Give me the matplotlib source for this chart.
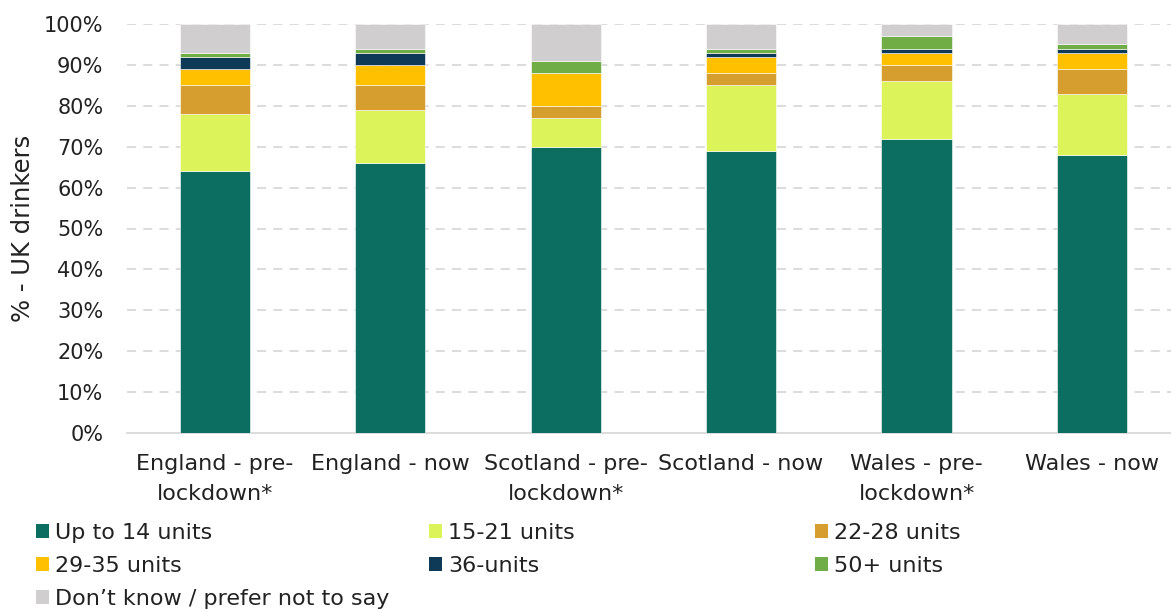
import matplotlib
matplotlib.use("Agg")
import matplotlib.pyplot as plt
from matplotlib.patches import Patch
import numpy as np

plt.rcParams['font.family'] = ['DejaVu Sans']

categories = ["England - pre-\nlockdown*", "England - now", "Scotland - pre-\nlockdown*",
              "Scotland - now", "Wales - pre-\nlockdown*", "Wales - now"]
series_names = ["Up to 14 units", "15-21 units", "22-28 units", "29-35 units",
                "36-units", "50+ units", "Don\u2019t know / prefer not to say"]
up_to_14 = [64, 66, 70, 69, 72, 68]
u15_21 = [14, 13, 7, 16, 14, 15]
u22_28 = [7, 6, 3, 3, 4, 6]
u29_35 = [4, 5, 8, 4, 3, 4]
u36 = [3, 3, 0, 1, 1, 1]
u50 = [1, 1, 3, 1, 3, 1]
dont_know = [7, 6, 9, 6, 3, 5]
yticks = [0, 10, 20, 30, 40, 50, 60, 70, 80, 90, 100]

colors = ["#0B6E61", "#DCF35A", "#D69E2E", "#FFC000", "#0F3A57", "#70AD47", "#D0CECE"]
series = [up_to_14, u15_21, u22_28, u29_35, u36, u50, dont_know]

fig = plt.figure(figsize=(11.71, 6.10), dpi=100)
ax = fig.add_axes([127/1171, 1-433/610, 1-127/1171, (433-24)/610])

x = np.arange(len(categories))
bottom = np.zeros(len(categories))
for vals, col, name in zip(series, colors, series_names):
    vals = np.array(vals, dtype=float)
    ax.bar(x, vals, 0.4, bottom=bottom, color=col, edgecolor='white', linewidth=0.4,
           label=name, zorder=3)
    bottom += vals

ax.set_xlim(-0.5, 5.45)
ax.set_ylim(0, 100)
ax.set_yticks(yticks)
ax.set_yticklabels([f"{v}%" for v in yticks], fontsize=15, color='#222222')
ax.set_xticks(x)
ax.set_xticklabels(categories, fontsize=16, color='#222222', linespacing=1.62)
ax.tick_params(axis='both', length=0)
ax.tick_params(axis='x', pad=15)
ax.tick_params(axis='y', pad=17)
for v in yticks[1:]:
    ax.axhline(v, color='#D9D9D9', linestyle=(0, (5, 4)), linewidth=1.3, zorder=1)
for s in ['top', 'right', 'left']:
    ax.spines[s].set_visible(False)
ax.spines['bottom'].set_color('#D9D9D9')
ax.spines['bottom'].set_linewidth(1.3)
ax.set_ylabel("% - UK drinkers", fontsize=17.5, color='#222222')
ax.yaxis.set_label_coords(-0.088, 0.5)

handles = [Patch(facecolor=c) for c in colors]
cols = [[0, 3, 6], [1, 4], [2, 5]]
xpos = [36/1171, 429/1171, 815/1171]
for idx, xp in zip(cols, xpos):
    fig.legend([handles[i] for i in idx], [series_names[i] for i in idx],
               loc='upper left', bbox_to_anchor=(xp, 1-523/610), frameon=False,
               fontsize=16, handlelength=0.58, handleheight=0.58, handletextpad=0.28,
               labelspacing=0.58, borderpad=0, borderaxespad=0, labelcolor='#222222')

fig.savefig("out.png", dpi=100)
